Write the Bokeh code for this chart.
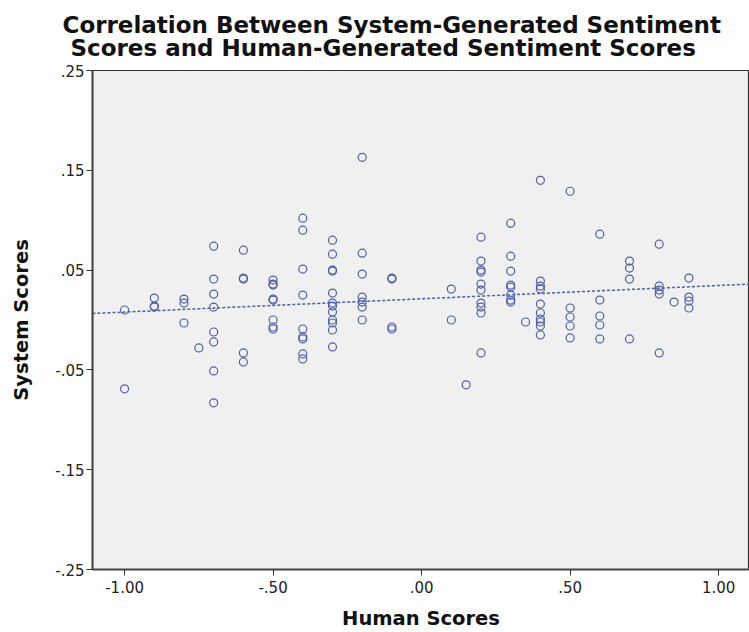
import numpy as np
from bokeh.plotting import figure
from bokeh.models import FixedTicker, Title, ColumnDataSource
from bokeh.embed import file_html
from bokeh.resources import INLINE

human = [
    -1.0, -1.0,
    -0.9, -0.9, -0.9,
    -0.8, -0.8, -0.8,
    -0.75,
    -0.7, -0.7, -0.7, -0.7, -0.7, -0.7, -0.7, -0.7,
    -0.6, -0.6, -0.6, -0.6, -0.6,
    -0.5, -0.5, -0.5, -0.5, -0.5, -0.5, -0.5, -0.5,
    -0.4, -0.4, -0.4, -0.4, -0.4, -0.4, -0.4, -0.4, -0.4,
    -0.3, -0.3, -0.3, -0.3, -0.3, -0.3, -0.3, -0.3, -0.3, -0.3, -0.3, -0.3,
    -0.2, -0.2, -0.2, -0.2, -0.2, -0.2, -0.2,
    -0.1, -0.1, -0.1, -0.1,
    0.1, 0.1,
    0.15,
    0.2, 0.2, 0.2, 0.2, 0.2, 0.2, 0.2, 0.2, 0.2, 0.2,
    0.3, 0.3, 0.3, 0.3, 0.3, 0.3, 0.3, 0.3,
    0.35,
    0.4, 0.4, 0.4, 0.4, 0.4, 0.4, 0.4, 0.4, 0.4, 0.4,
    0.5, 0.5, 0.5, 0.5, 0.5,
    0.6, 0.6, 0.6, 0.6, 0.6,
    0.7, 0.7, 0.7, 0.7,
    0.8, 0.8, 0.8, 0.8, 0.8,
    0.85,
    0.9, 0.9, 0.9, 0.9,
]
system = [
    0.010, -0.069,
    0.022, 0.014, 0.013,
    0.021, 0.017, -0.003,
    -0.028,
    0.074, 0.041, 0.026, 0.013, -0.012, -0.022, -0.051, -0.083,
    0.070, 0.042, 0.041, -0.033, -0.042,
    0.040, 0.036, 0.035, 0.021, 0.020, 0.000, -0.007, -0.009,
    0.102, 0.090, 0.051, 0.025, -0.009, -0.017, -0.019, -0.034, -0.039,
    0.080, 0.066, 0.050, 0.049, 0.027, 0.017, 0.014, 0.008, 0.000, -0.003, -0.010, -0.027,
    0.163, 0.067, 0.046, 0.023, 0.018, 0.013, 0.000,
    0.042, 0.041, -0.007, -0.009,
    0.031, 0.000,
    -0.065,
    0.083, 0.059, 0.050, 0.048, 0.036, 0.030, 0.017, 0.013, 0.007, -0.033,
    0.097, 0.064, 0.049, 0.035, 0.033, 0.025, 0.020, 0.018,
    -0.002,
    0.140, 0.039, 0.034, 0.031, 0.016, 0.007, 0.001, -0.002, -0.006, -0.015,
    0.129, 0.012, 0.003, -0.006, -0.018,
    0.086, 0.020, 0.004, -0.005, -0.019,
    0.059, 0.052, 0.041, -0.019,
    0.076, 0.034, 0.030, 0.026, -0.033,
    0.018,
    0.042, 0.023, 0.019, 0.012,
]

x_ticks = [-1.0, -0.5, 0.0, 0.5, 1.0]
x_tick_labels = ["-1.00", "-.50", ".00", ".50", "1.00"]
y_ticks = [-0.25, -0.15, -0.05, 0.05, 0.15, 0.25]
y_tick_labels = ["-.25", "-.15", "-.05", ".05", ".15", ".25"]
title_lines = ["Correlation Between System-Generated Sentiment",
               "\u00a0Scores and Human-Generated Sentiment Scores"]

COLOR = "#4f5fa8"
FONT = "DejaVu Sans"

p = figure(width=749, height=632, output_backend="svg", toolbar_location=None,
           x_range=(-1.108, 1.104), y_range=(-0.25, 0.25),
           min_border_left=92, min_border_right=0, min_border_top=70, min_border_bottom=62)

p.background_fill_color = "#f0f0f0"
p.border_fill_color = "white"
p.outline_line_color = "#333333"
p.outline_line_width = 1.2
p.grid.visible = False

src = ColumnDataSource(dict(x=human, y=system))
p.scatter("x", "y", source=src, size=8, fill_color=None, line_color=COLOR, line_width=1.2)

# linear fit line
slope, intercept = np.polyfit(np.array(human), np.array(system), 1)
xs = [-1.108, 1.104]
p.line(xs, [intercept + slope * v for v in xs], line_color=COLOR, line_width=1.5, line_dash="3 2")

for ax, ticks, labels in ((p.xaxis[0], x_ticks, x_tick_labels), (p.yaxis[0], y_ticks, y_tick_labels)):
    ax.ticker = FixedTicker(ticks=ticks)
    ax.major_label_overrides = {t: l for t, l in zip(ticks, labels)}
    ax.minor_tick_line_color = None
    ax.major_tick_in = 0
    ax.major_tick_out = 6
    ax.axis_line_color = "#444444"
    ax.axis_line_width = 2
    ax.major_tick_line_color = "#333333"
    ax.major_label_text_font = FONT
    ax.major_label_text_font_size = "15px"
    ax.major_label_text_color = "#222222"
    ax.axis_label_text_font = FONT
    ax.axis_label_text_font_style = "bold"
    ax.axis_label_text_font_size = "19.5px"
    ax.axis_label_text_color = "#111111"

p.xaxis[0].axis_label = "Human Scores"
p.yaxis[0].axis_label = "System Scores"
p.xaxis[0].major_label_standoff = 5
p.xaxis[0].axis_label_standoff = 11
p.yaxis[0].major_label_standoff = 2
p.yaxis[0].axis_label_standoff = 19

title = Title(text="\n".join(title_lines), align="left", offset=-30, vertical_align="top",
              text_font=FONT, text_font_size="23px", text_font_style="bold",
              text_color="#111111", text_line_height=0.9, standoff=15)
p.add_layout(title, "above")

open("out.html", "w").write(file_html(p, INLINE))
